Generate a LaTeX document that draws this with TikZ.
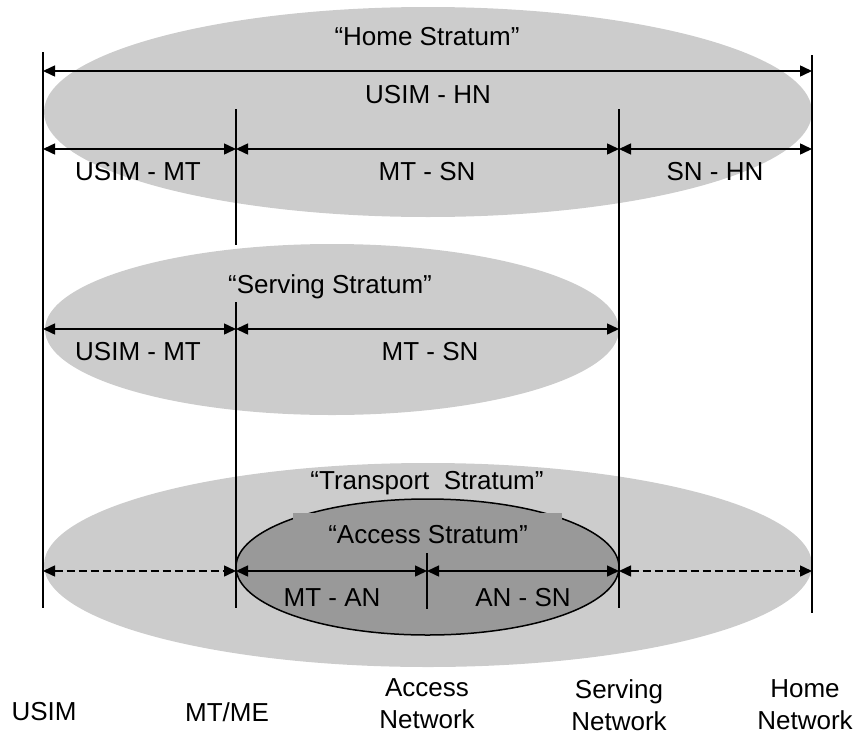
\documentclass[tikz,border=0pt]{standalone}
\usepackage{fontspec}
\setmainfont{Liberation Sans}
\usetikzlibrary{arrows.meta}
\definecolor{lightg}{HTML}{CCCCCC}
\definecolor{darkg}{HTML}{999999}
\begin{document}
\begin{tikzpicture}[x=1pt,y=-1pt,
  lbl/.style={font=\fontsize{26}{32}\selectfont, inner sep=0pt, align=center},
  vline/.style={line width=2.4pt},
  dim/.style={line width=1.5pt, {Triangle[length=12pt,width=11pt]}-{Triangle[length=12pt,width=11pt]}},
  dimdash/.style={dim, dash pattern=on 8pt off 4pt}]
\useasboundingbox (0,0) rectangle (858,736);
% strata ellipses
\fill[lightg] (428,112) ellipse [x radius=384pt, y radius=105pt];
\fill[lightg] (332,329.5) ellipse [x radius=287pt, y radius=85.5pt];
\fill[lightg] (428,565) ellipse [x radius=384pt, y radius=102pt];
\filldraw[fill=darkg, draw=black, line width=1.5pt] (427.5,567) ellipse [x radius=191.5pt, y radius=68pt];
\node[fill=darkg, inner sep=0pt, minimum width=269pt, minimum height=40pt] (accbox) at (427.5,532.5) {};

% vertical lines
\coordinate (u0) at (43,52);   \coordinate (u1) at (43,608);
\coordinate (m0) at (236,109); \coordinate (m1) at (236,245);
\coordinate (m2) at (236,302); \coordinate (m3) at (236,608);
\coordinate (a0) at (427,553); \coordinate (a1) at (427,609);
\coordinate (s0) at (619,109); \coordinate (s1) at (619,608);
\coordinate (h0) at (812,55);  \coordinate (h1) at (812,613);
\draw[vline] (u0) -- (u1);
\draw[vline] (m0) -- (m1);
\draw[vline] (m2) -- (m3);
\draw[vline] (a0) -- (a1);
\draw[vline] (s0) -- (s1);
\draw[vline] (h0) -- (h1);

% arrow end points
\coordinate (uA) at (43,71);   \coordinate (hA) at (812,71);
\coordinate (uB) at (43,149);  \coordinate (mB) at (236,149);
\coordinate (sB) at (619,149); \coordinate (hB) at (812,149);
\coordinate (uC) at (43,329);  \coordinate (mC) at (236,329);
\coordinate (sC) at (619,329);
\coordinate (uD) at (43,571);  \coordinate (mD) at (236,571);
\coordinate (aD) at (427,571); \coordinate (sD) at (619,571);
\coordinate (hD) at (812,571);

\draw[dim] (uA) -- (hA);
\draw[dim] (uB) -- (mB);
\draw[dim] (mB) -- (sB);
\draw[dim] (sB) -- (hB);
\draw[dim] (uC) -- (mC);
\draw[dim] (mC) -- (sC);
\draw[dimdash] (uD) -- (mD);
\draw[dim] (mD) -- (aD);
\draw[dim] (aD) -- (sD);
\draw[dimdash] (sD) -- (hD);

% labels
\node[lbl] (home) at (427,37) {“Home Stratum”};
\node[lbl] (usimhn) at (428,95) {USIM - HN};
\node[lbl] (um1) at (138,172) {USIM - MT};
\node[lbl] (ms1) at (427,172) {MT - SN};
\node[lbl] (sh1) at (715,172) {SN - HN};
\node[lbl] (serv) at (330,287) {“Serving Stratum”};
\node[lbl] (um2) at (138,352) {USIM - MT};
\node[lbl] (ms2) at (430,352) {MT - SN};
\node[lbl] (trans) at (427,483) {“Transport\ \ Stratum”};
\node[lbl] (acc) at (428,535) {“Access Stratum”};
\node[lbl] (ma) at (332,598) {MT - AN};
\node[lbl] (as) at (523,598) {AN - SN};
\node[lbl] (usim) at (44,712) {USIM};
\node[lbl] (mtme) at (227,712) {MT/ME};
\node[lbl] (accn) at (427,704) {Access\\Network};
\node[lbl] (servn) at (619,705) {Serving\\Network};
\node[lbl] (homen) at (805,705) {Home\\Network};
\end{tikzpicture}
\end{document}
